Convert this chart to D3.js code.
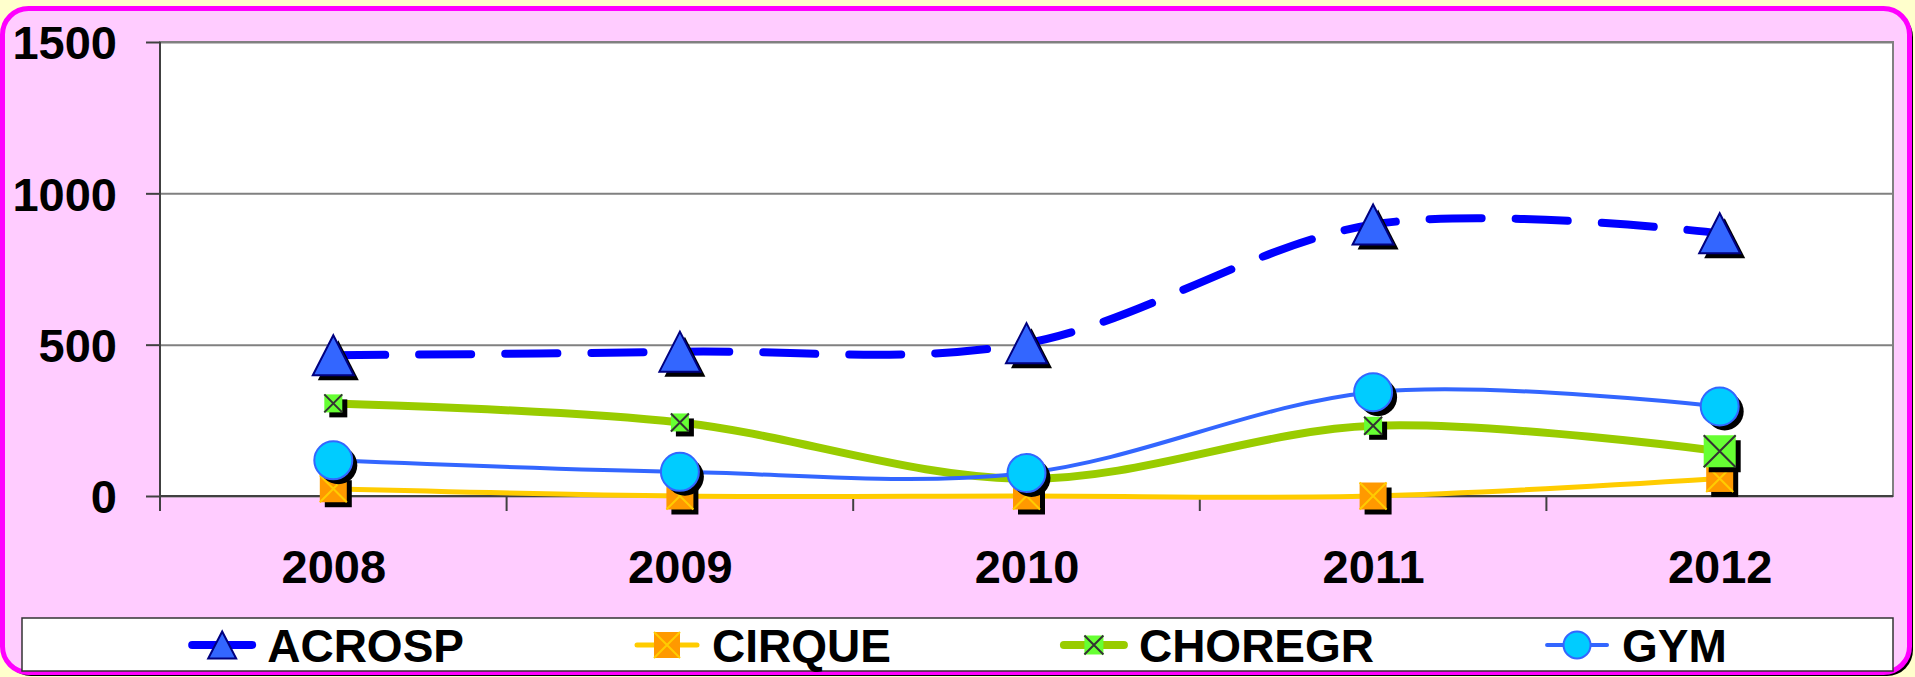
<!DOCTYPE html>
<html>
<head>
<meta charset="utf-8">
<script src="https://cdn.jsdelivr.net/npm/d3@7"></script>
<style>
  html, body { margin: 0; padding: 0; background: #ffffcc; }
  svg { display: block; }
</style>
</head>
<body>
<div id="chart"></div>
<script>
// values
const years = ['2008', '2009', '2010', '2011', '2012'];
const seriesNames = ['ACROSP', 'CIRQUE', 'CHOREGR', 'GYM'];
const acrosp = [465, 477, 505, 897, 868];
const cirque = [24, 0, 0, 0, 58];
const choregr = [306, 243, 57, 232, 148];
const gym = [118, 80, 76, 343, 296];
const yTicks = [0, 500, 1000, 1500];

const values = [acrosp, cirque, choregr, gym];

const styles = {
  ACROSP: { color: '#0000ff', width: 8, dash: '52 34', marker: 'triangle', fill: '#3366ff', stroke: '#000080', w: 41, h: 40, lw: 28, lh: 27 },
  CIRQUE: { color: '#ffcc00', width: 5, marker: 'xsquare', fill: '#ff9900', stroke: '#ffcc00', w: 27, h: 27, lw: 26, lh: 26 },
  CHOREGR: { color: '#99cc00', width: 8, marker: 'xsquare', fill: '#66ff33', stroke: '#333333', w: 18, h: 18, lw: 19, lh: 19, big: { '2012': 32 } },
  GYM: { color: '#3366ff', width: 4, marker: 'circle', fill: '#00ccff', stroke: '#3366ff', w: 38, h: 38, lw: 27, lh: 27 }
};

const W = 1915, H = 677;
const font = "'Liberation Sans', Arial, sans-serif";
const plot = { left: 160, right: 1893, top: 42, bottom: 496 };

const svg = d3.select('#chart').append('svg')
  .attr('width', W)
  .attr('height', H);

// outer frame with drop shadow
svg.append('rect')
  .attr('x', 5).attr('y', 11)
  .attr('width', 1908).attr('height', 665)
  .attr('rx', 26)
  .attr('fill', '#000');

svg.append('rect')
  .attr('x', 2.5).attr('y', 8.5)
  .attr('width', 1907).attr('height', 664)
  .attr('rx', 26)
  .attr('fill', '#ffccff')
  .attr('stroke', '#ff00ff')
  .attr('stroke-width', 5);

const x = d3.scalePoint()
  .domain(years)
  .range([plot.left, plot.right])
  .padding(0.5);

const y = d3.scaleLinear()
  .domain([0, 1500])
  .range([plot.bottom, plot.top]);

// plot area
svg.append('rect')
  .attr('x', plot.left).attr('y', plot.top)
  .attr('width', plot.right - plot.left)
  .attr('height', plot.bottom - plot.top)
  .attr('fill', '#fff')
  .attr('stroke', '#808080')
  .attr('stroke-width', 2);

// gridlines
svg.append('g')
  .attr('transform', `translate(${plot.left},0)`)
  .call(d3.axisLeft(y).tickValues(yTicks).tickSize(-(plot.right - plot.left)).tickFormat(''))
  .call((g) => g.select('.domain').remove())
  .call((g) => g.selectAll('line').attr('stroke', '#808080').attr('stroke-width', 2));

// y axis
const yAxis = svg.append('g')
  .attr('transform', `translate(${plot.left},0)`)
  .call(d3.axisLeft(y).tickValues(yTicks).tickFormat(d3.format('d'))
    .tickSize(14).tickPadding(29).tickSizeOuter(0));

yAxis.select('.domain').attr('stroke', '#404040').attr('stroke-width', 2)
  .attr('d', `M0,${plot.top}V${plot.bottom + 15}`);
yAxis.selectAll('line').attr('stroke', '#404040').attr('stroke-width', 2);
yAxis.selectAll('text')
  .attr('dy', '0.36em')
  .style('font', `bold 47px ${font}`)
  .attr('fill', '#000');

// x axis
const xAxis = svg.append('g')
  .attr('transform', `translate(0,${plot.bottom})`)
  .call(d3.axisBottom(x).tickSize(0).tickPadding(54));

xAxis.select('.domain').attr('stroke', '#404040').attr('stroke-width', 2)
  .attr('d', `M${plot.left},0H${plot.right}`);
xAxis.selectAll('text')
  .style('font', `bold 47px ${font}`)
  .attr('fill', '#000');

// category boundary ticks
const step = x.step();
xAxis.selectAll('.bound')
  .data(years.slice(1))
  .join('line')
  .attr('class', 'bound')
  .attr('x1', (d) => x(d) - step / 2)
  .attr('x2', (d) => x(d) - step / 2)
  .attr('y1', 0)
  .attr('y2', 15)
  .attr('stroke', '#404040')
  .attr('stroke-width', 2);

function markerPath(type, w, h) {
  if (type === 'triangle') {
    return `M0,${-h / 2}L${w / 2},${h / 2}L${-w / 2},${h / 2}Z`;
  }
  if (type === 'circle') {
    const r = w / 2;
    return `M${r},0A${r},${r} 0 1,1 ${-r},0A${r},${r} 0 1,1 ${r},0Z`;
  }
  return `M${-w / 2},${-h / 2}H${w / 2}V${h / 2}H${-w / 2}Z`;
}

function drawMarker(g, st, w, h, shadow) {
  if (shadow) {
    g.append('path')
      .attr('d', markerPath(st.marker, w, h))
      .attr('transform', 'translate(5,5)')
      .attr('fill', '#000');
  }
  g.append('path')
    .attr('d', markerPath(st.marker, w, h))
    .attr('fill', st.fill)
    .attr('stroke', st.marker === 'xsquare' ? 'none' : st.stroke)
    .attr('stroke-width', 2);
  if (st.marker === 'xsquare') {
    g.append('path')
      .attr('d', `M${-w / 2},${-h / 2}L${w / 2},${h / 2}M${w / 2},${-h / 2}L${-w / 2},${h / 2}`)
      .attr('stroke', st.stroke)
      .attr('stroke-width', 2)
      .attr('fill', 'none');
  }
}

const line = d3.line()
  .x((d, i) => x(years[i]))
  .y((d) => y(d))
  .curve(d3.curveCardinal.tension(0));

seriesNames.forEach((name, si) => {
  const st = styles[name];
  const g = svg.append('g');

  g.append('path')
    .attr('d', line(values[si]))
    .attr('fill', 'none')
    .attr('stroke', st.color)
    .attr('stroke-width', st.width)
    .attr('stroke-linecap', st.dash ? 'round' : 'butt')
    .attr('stroke-dasharray', st.dash || null);

  values[si].forEach((v, i) => {
    const size = st.big && st.big[years[i]] ? st.big[years[i]] : null;
    const m = g.append('g').attr('transform', `translate(${x(years[i])},${y(v)})`);
    drawMarker(m, st, size || st.w, size || st.h, true);
  });
});

// legend
const legendBox = { x: 22, y: 618, w: 1871, h: 53 };
svg.append('rect')
  .attr('x', legendBox.x).attr('y', legendBox.y)
  .attr('width', legendBox.w).attr('height', legendBox.h)
  .attr('fill', '#fff')
  .attr('stroke', '#333')
  .attr('stroke-width', 1.5);

const legend = svg.append('g');
const items = seriesNames.map((name) => {
  const item = legend.append('g');
  const st = styles[name];
  item.append('line')
    .attr('x1', 4).attr('x2', 64)
    .attr('y1', 645).attr('y2', 645)
    .attr('stroke', st.color)
    .attr('stroke-width', st.width)
    .attr('stroke-linecap', 'round');
  const m = item.append('g').attr('transform', 'translate(34,645)');
  drawMarker(m, st, st.lw, st.lh, false);
  const t = item.append('text')
    .attr('x', 79).attr('y', 662)
    .style('font', `bold 46px ${font}`)
    .attr('fill', '#000')
    .text(name);
  return { item, width: 79 + t.node().getComputedTextLength() };
});

const gap = 169;
const total = d3.sum(items, (d) => d.width) + gap * (items.length - 1);
let cx = legendBox.x + (legendBox.w - total) / 2;
items.forEach((d) => {
  d.item.attr('transform', `translate(${cx},0)`);
  cx += d.width + gap;
});
</script>
</body>
</html>
